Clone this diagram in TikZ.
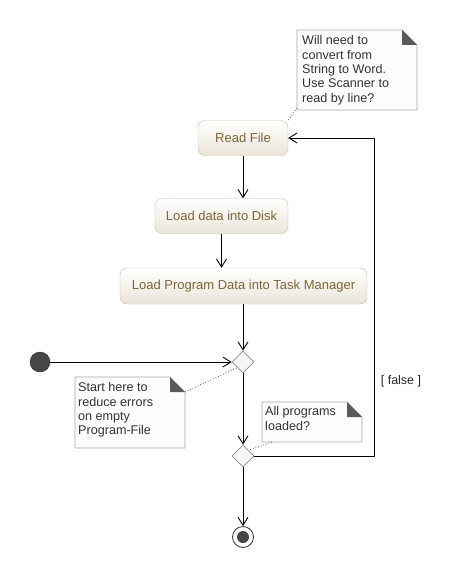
\documentclass[tikz,border=0pt]{standalone}
\usepackage{fontspec}
\setmainfont{Liberation Sans}
\usetikzlibrary{arrows.meta,shapes.geometric,calc}
\definecolor{acttext}{HTML}{7D6638}
\definecolor{actborder}{HTML}{C9BE9E}
\definecolor{notetext}{HTML}{333333}
\definecolor{noteborder}{HTML}{A8A8A8}
\definecolor{notefold}{HTML}{5A5A5A}
\begin{document}
\begin{tikzpicture}[x=1pt,y=-1pt,
  act/.style={draw=actborder,rounded corners=7pt,top color=white,bottom color=actborder!40,
    text=acttext,font=\fontsize{13}{15}\selectfont,inner sep=0pt,anchor=center},
  flow/.style={draw=black,line width=0.9pt,-{Straight Barb[length=8pt,width=10pt,line width=0.9pt]}},
  notelink/.style={draw=black!70,dotted,line width=0.8pt},
  notetxt/.style={text=notetext,font=\fontsize{12.6}{14.3}\selectfont,align=left,anchor=north west,inner sep=0pt},
  dia/.style={diamond,draw=black!45,fill=black!4,minimum width=22pt,minimum height=22pt,inner sep=0pt,line width=0.7pt}
]
\useasboundingbox (0,0) rectangle (459,577);

% note helper
\newcommand{\umlnote}[5]{% name, x1, y1, x2, y2
  \fill[black!1] (#2,#3) -- (#4-15,#3) -- (#4,#3+15) -- (#4,#5) -- (#2,#5) -- cycle;
  \draw[noteborder,line width=0.7pt] (#2,#3) -- (#4-15,#3) -- (#4,#3+15) -- (#4,#5) -- (#2,#5) -- cycle;
  \fill[notefold] (#4-15,#3) -- (#4,#3+15) -- (#4-15,#3+15) -- cycle;
  \coordinate (#1) at (#2,#3);
}

% activities
\node[act,minimum width=90pt,minimum height=35pt] (read) at (243,138) {Read File};
\node[act,minimum width=133pt,minimum height=35pt] (disk) at (221.5,216) {Load data into Disk};
\node[act,minimum width=247pt,minimum height=36pt] (task) at (243.5,286) {Load Program Data into Task Manager};

% diamonds
\node[dia] (d1) at (243,362) {};
\node[dia] (d2) at (243,456) {};

% start / end
\node[circle,fill=black!72,draw=black!85,minimum size=20pt,inner sep=0pt] (start) at (40,362) {};
\node[circle,draw=black!80,line width=0.8pt,fill=white,minimum size=21pt,inner sep=0pt] (stop) at (243,537) {};
\fill[black!72] (stop.center) circle (6pt);

% notes
\umlnote{n1}{297}{30}{417}{110}
\node[notetxt] (n1t) at (302,35.5) {Will need to\\convert from\\String to Word.\\Use Scanner to\\read by line?};
\umlnote{n2}{75}{377}{185}{448}
\node[notetxt] (n2t) at (78,382.5) {Start here to\\reduce errors\\on empty\\Program-File};
\umlnote{n3}{262}{402}{362}{442}
\node[notetxt] (n3t) at (265,406.5) {All programs\\loaded?};

\coordinate (n1a) at (297,108);
\coordinate (n2a) at (185,392);
\coordinate (n3a) at (272,442);
\draw[notelink] (n1a) -- (read.north east);
\draw[notelink] (n2a) -- (d1.south west);
\draw[notelink] (n3a) -- (d2.north east);

% flows
\draw[flow] (read.south) -- (read.south |- disk.north);
\draw[flow] (disk.south) -- (disk.south |- task.north);
\draw[flow] (task.south -| d1.north) -- (d1.north);
\draw[flow] (start.east) -- (d1.west);
\draw[flow] (d1.south) -- (d2.north);
\draw[flow] (d2.south) -- (stop.north);
\coordinate (loopx) at (374,0);
\draw[flow] (d2.east) -- (d2.east -| loopx) -- (read.east -| loopx) -- (read.east);
\node[font=\fontsize{12.5}{14}\selectfont,text=black!85] (lbl) at (401,381) {[ false ]};
\end{tikzpicture}
\end{document}
